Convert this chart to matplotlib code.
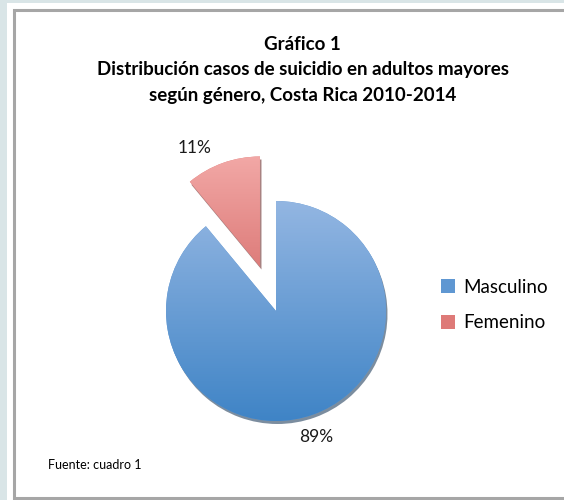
import numpy as np
import matplotlib.pyplot as plt
from matplotlib.colors import LinearSegmentedColormap
from matplotlib.patches import Rectangle, Wedge

labels = ["Masculino", "Femenino"]
values = [89, 11]
colors = ["#5f97d2", "#de7a78"]
grad_top = ["#93b6e2", "#f2a8a6"]
grad_bot = ["#3f84c6", "#c9514f"]

plt.rcParams['font.family'] = ['Lato', 'DejaVu Sans']

fig = plt.figure(figsize=(5.64, 5.0), dpi=100)
fig.patch.set_facecolor("#d9e5e7")

# white panel with gray frame
fig.patches.append(Rectangle((7/564, 0), 1, 1 - 3/500, transform=fig.transFigure,
                             facecolor="white", edgecolor="none", zorder=-3))
fig.patches.append(Rectangle((14/564, 2/500), 1, 1 - 12/500, transform=fig.transFigure,
                             facecolor="white", edgecolor="#a6a6a6", linewidth=2.2, zorder=-2))

# axes in pixel units (y up)
ax = fig.add_axes([0, 0, 1, 1])
ax.patch.set_visible(False)

R = 110
wedges, texts, autotexts = ax.pie(values, colors=colors, startangle=90, counterclock=False,
                                  explode=[0, 0.43 * R], center=(276, 189), radius=R,
                                  autopct="%d%%", pctdistance=1.22,
                                  textprops={"fontsize": 12.5, "color": "#1a1a1a"},
                                  wedgeprops={"linewidth": 0})

# nudge the labels a bit, like excel places them
x, y = autotexts[0].get_position()
autotexts[0].set_position((x - 5, y))
x, y = autotexts[1].get_position()
autotexts[1].set_position((x - 20, y - 8))

# gradient fill + soft shadow
for i, w in enumerate(wedges):
    cmap = LinearSegmentedColormap.from_list("g%d" % i, [grad_bot[i], grad_top[i]])
    cx, cy = w.center
    r = w.r
    shadow = Wedge((cx + 1.5, cy - 3), r, w.theta1, w.theta2,
                   facecolor="#24415f" if i == 0 else "#6e2f2e",
                   edgecolor="none", alpha=0.6, zorder=0.5)
    ax.add_patch(shadow)
    grad = np.linspace(0, 1, 256).reshape(-1, 1)
    im = ax.imshow(grad, cmap=cmap, origin="lower", aspect="auto",
                   extent=(cx - r, cx + r, cy - r, cy + r), zorder=1.5)
    im.set_clip_path(w)
    w.set_zorder(1)

ax.set_xlim(0, 564)
ax.set_ylim(0, 500)
ax.set_aspect("equal")
ax.axis("off")

fig.text(0.537, 0.91, "Gráfico 1", ha="center", va="center", fontsize=13.5, fontweight="bold")
fig.text(0.537, 0.86, "Distribución casos de suicidio en adultos mayores",
         ha="center", va="center", fontsize=13.5, fontweight="bold")
fig.text(0.537, 0.81, "según género, Costa Rica 2010-2014",
         ha="center", va="center", fontsize=13.5, fontweight="bold")

leg = ax.legend(wedges, labels, loc="center left", bbox_to_anchor=(0.752, 0.39),
                frameon=False, fontsize=13.5, handlelength=0.75, handleheight=0.75,
                labelspacing=1.0, handletextpad=0.45)

fig.text(0.085, 0.07, "Fuente: cuadro 1", ha="left", va="center", fontsize=9)

fig.savefig("out.png", dpi=100, facecolor=fig.get_facecolor())
